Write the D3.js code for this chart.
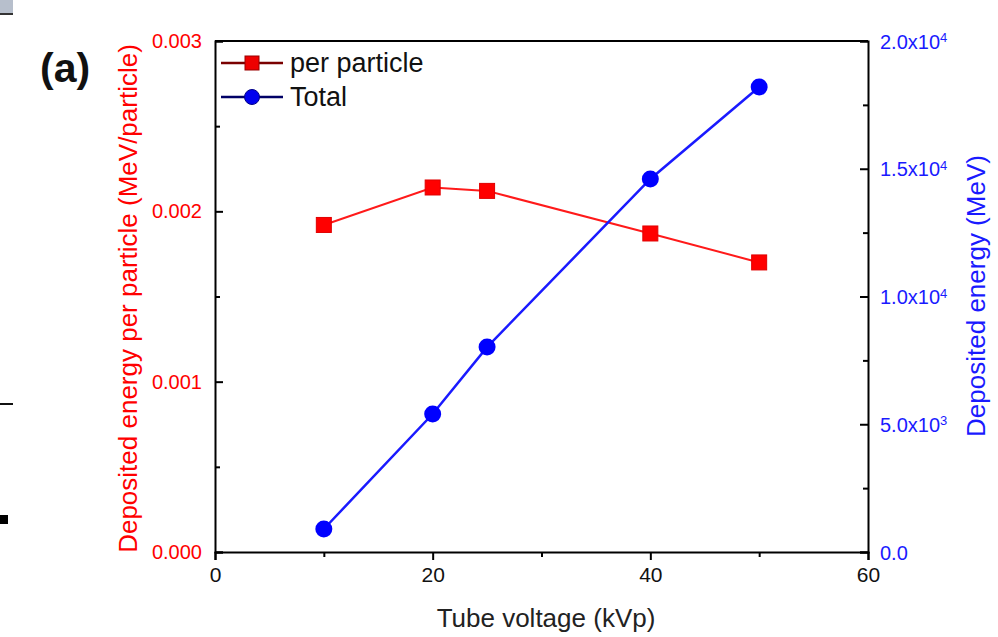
<!DOCTYPE html>
<html>
<head>
<meta charset="utf-8">
<script src="https://cdn.jsdelivr.net/npm/d3@7"></script>
<style>
  body { margin: 0; background: #fff; }
  text { font-family: "Liberation Sans", Arial, sans-serif; }
</style>
</head>
<body>
<script>
// tube voltage (kVp)
var voltage = [10, 20, 25, 40, 50];
// deposited energy per particle (MeV/particle)
var perParticle = [0.00192, 0.00214, 0.00212, 0.00187, 0.00170];
// total deposited energy (MeV)
var total = [900, 5400, 8020, 14600, 18200];

var xTicks = [0, 20, 40, 60],
    leftTicks = [0, 0.001, 0.002, 0.003],
    rightTicks = [0, 5000, 10000, 15000, 20000];

var width = 998, height = 637,
    plotLeft = 215, plotRight = 868, plotTop = 41, plotBottom = 552;

var svg = d3.select("body").append("svg")
    .attr("width", width)
    .attr("height", height);

var x = d3.scaleLinear().domain([0, 60]).range([plotLeft, plotRight]);
var yL = d3.scaleLinear().domain([0, 0.003]).range([plotBottom, plotTop]);
var yR = d3.scaleLinear().domain([0, 20000]).range([plotBottom, plotTop]);

// bits of the neighbouring panels cropped in at the left edge
svg.append("rect").attr("x", 0).attr("y", 0).attr("width", 13).attr("height", 15).attr("fill", "#b7bfcc");
svg.append("rect").attr("x", 0).attr("y", 13).attr("width", 13).attr("height", 2).attr("fill", "#333");
svg.append("rect").attr("x", 0).attr("y", 403).attr("width", 13).attr("height", 2).attr("fill", "#111");
svg.append("rect").attr("x", 0).attr("y", 515).attr("width", 8).attr("height", 9).attr("fill", "#000");

// frame
svg.append("line").attr("x1", plotLeft).attr("x2", plotRight).attr("y1", plotTop).attr("y2", plotTop)
    .attr("stroke", "#000").attr("stroke-width", 2);

// bottom axis, ticks outward
var xAxis = svg.append("g")
    .attr("transform", "translate(0," + plotBottom + ")")
    .call(d3.axisBottom(x).tickValues(xTicks).tickSize(8).tickPadding(7).tickFormat(d3.format("d")));
svg.append("g")
    .attr("transform", "translate(0," + plotBottom + ")")
    .call(d3.axisBottom(x).tickValues([10, 30, 50]).tickSize(5).tickFormat(""))
    .select(".domain").remove();
xAxis.attr("font-size", 21);
xAxis.selectAll("text").attr("fill", "#111");

// left axis, ticks inward
var lAxis = svg.append("g")
    .attr("transform", "translate(" + plotLeft + ",0)")
    .call(d3.axisLeft(yL).tickValues(leftTicks).tickSize(-8).tickPadding(13).tickFormat(d3.format(".3f")));
svg.append("g")
    .attr("transform", "translate(" + plotLeft + ",0)")
    .call(d3.axisLeft(yL).tickValues([0.0005, 0.0015, 0.0025]).tickSize(-5).tickFormat(""))
    .select(".domain").remove();
lAxis.attr("font-size", 20);
lAxis.selectAll("text").attr("fill", "#ff0000");

// right axis, ticks inward
var rAxis = svg.append("g")
    .attr("transform", "translate(" + plotRight + ",0)")
    .call(d3.axisRight(yR).tickValues(rightTicks).tickSize(-8).tickPadding(14).tickFormat(""));
svg.append("g")
    .attr("transform", "translate(" + plotRight + ",0)")
    .call(d3.axisRight(yR).tickValues([2500, 7500, 12500, 17500]).tickSize(-5).tickFormat(""))
    .select(".domain").remove();

svg.selectAll(".domain").attr("stroke-width", 2);
svg.selectAll(".tick line").attr("stroke-width", 2);

// right tick labels like 1.5x10^4
rAxis.selectAll(".tick").each(function(d) {
  var t = d3.select(this).append("text")
      .attr("x", 12).attr("dy", "0.35em")
      .attr("fill", "#1a1aff").attr("font-size", 20).attr("text-anchor", "start");
  if (d === 0) { t.text("0.0"); return; }
  var e = Math.floor(Math.log10(d));
  t.append("tspan").text((d / Math.pow(10, e)).toFixed(1) + "x10");
  t.append("tspan").attr("dy", "-0.5em").attr("font-size", 13).text(e);
});

// axis titles
svg.append("text")
    .attr("transform", "translate(137," + ((plotTop + plotBottom) / 2 + 2) + ") rotate(-90)")
    .attr("text-anchor", "middle").attr("font-size", 26).attr("fill", "#ff0000")
    .text("Deposited energy per particle (MeV/particle)");
svg.append("text")
    .attr("transform", "translate(985,296) rotate(-90)")
    .attr("text-anchor", "middle").attr("font-size", 26).attr("fill", "#1a1aff")
    .text("Deposited energy (MeV)");
svg.append("text")
    .attr("x", 546).attr("y", 627)
    .attr("text-anchor", "middle").attr("font-size", 26).attr("fill", "#222")
    .text("Tube voltage (kVp)");

svg.append("text")
    .attr("x", 40).attr("y", 82)
    .attr("font-family", "'Open Sans', sans-serif").attr("font-weight", "bold")
    .attr("font-size", 41).attr("fill", "#111")
    .text("(a)");

// series
var redPts = voltage.map(function(v, i) { return [v, perParticle[i]]; });
var bluePts = voltage.map(function(v, i) { return [v, total[i]]; });

svg.append("path")
    .attr("d", d3.line().x(function(d) { return x(d[0]); }).y(function(d) { return yL(d[1]); })(redPts))
    .attr("fill", "none").attr("stroke", "#ff1a1a").attr("stroke-width", 2);
svg.append("path")
    .attr("d", d3.line().x(function(d) { return x(d[0]); }).y(function(d) { return yR(d[1]); })(bluePts))
    .attr("fill", "none").attr("stroke", "#1a1aff").attr("stroke-width", 2.5);

svg.selectAll(".sq").data(redPts).enter().append("rect")
    .attr("x", function(d) { return x(d[0]) - 7.5; })
    .attr("y", function(d) { return yL(d[1]) - 7.5; })
    .attr("width", 15).attr("height", 15)
    .attr("fill", "#ff0000").attr("stroke", "#e00000").attr("stroke-width", 1);
svg.selectAll(".dot").data(bluePts).enter().append("circle")
    .attr("cx", function(d) { return x(d[0]); })
    .attr("cy", function(d) { return yR(d[1]); })
    .attr("r", 8.5)
    .attr("fill", "#0000ff");

// legend
var legend = [
  {name: "per particle", line: "#7a0000", fill: "#ee0000", shape: "square"},
  {name: "Total", line: "#000066", fill: "#0000ee", shape: "circle"}
];
var lg = svg.selectAll(".lg").data(legend).enter().append("g")
    .attr("transform", function(d, i) { return "translate(221," + (63 + i * 34) + ")"; });
lg.append("line").attr("x1", 0).attr("x2", 62)
    .attr("stroke", function(d) { return d.line; }).attr("stroke-width", 2.5);
lg.each(function(d) {
  var g = d3.select(this);
  if (d.shape === "square") {
    g.append("rect").attr("x", 24).attr("y", -7).attr("width", 14).attr("height", 14)
        .attr("fill", d.fill).attr("stroke", "#990000").attr("stroke-width", 1);
  } else {
    g.append("circle").attr("cx", 31).attr("r", 7.5)
        .attr("fill", d.fill).attr("stroke", "#000088").attr("stroke-width", 1);
  }
});
lg.append("text").attr("x", 69).attr("dy", "0.35em")
    .attr("font-size", 27).attr("fill", "#111")
    .text(function(d) { return d.name; });
</script>
</body>
</html>
